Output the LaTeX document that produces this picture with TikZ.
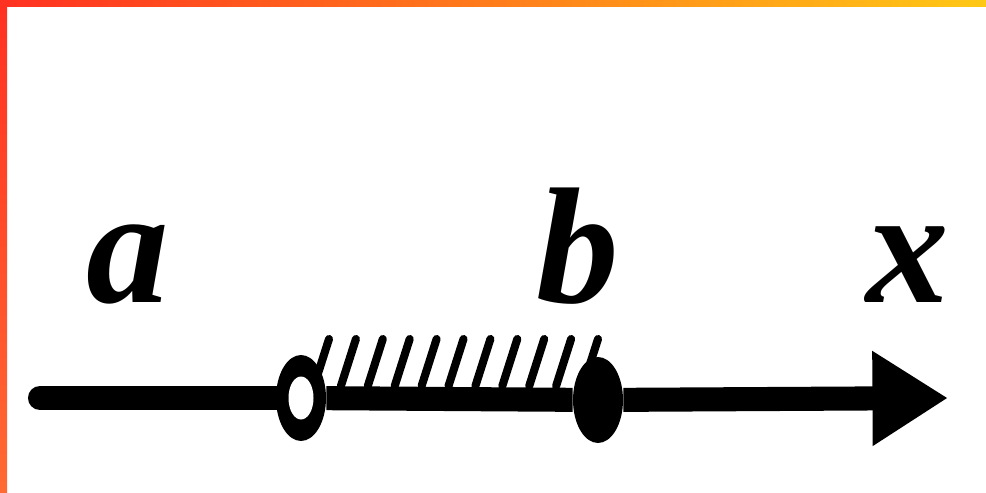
\documentclass[tikz,border=0pt]{standalone}
\usepackage{fontspec}
\setmainfont{Liberation Serif}
\usetikzlibrary{arrows.meta,shapes.geometric}
\definecolor{edgered}{HTML}{FF3121}
\definecolor{edgeyellow}{HTML}{FFC815}
\definecolor{edgeorange}{HTML}{FF6A33}
\tikzset{
	axisline/.style={line width=13.7pt},
	hatchline/.style={line width=4.6pt, line cap=round},
	pointdot/.style={ellipse, fill=black, inner sep=0pt, minimum width=1cm, minimum height=1.72cm},
	letter/.style={anchor=base, inner sep=0pt, font=\fontsize{94}{94}\selectfont\bfseries\itshape},
}
\begin{document}
\begin{tikzpicture}[x=0.02cm, y=-0.02cm]
%	1単位 = 1px
	\useasboundingbox (0,0) rectangle (986,493);
	\fill[white] (0,0) rectangle (986,493); %背景
	\shade[left color=edgered, right color=edgeyellow] (0,0) rectangle (986,7); %上の帯
	\shade[top color=edgered, bottom color=edgeorange] (0,0) rectangle (7,493); %左の帯
	\coordinate (start) at (40,398);
	\coordinate (tip) at (948,398);
	\foreach \i in {0,...,10}
		\draw[hatchline] ({329+26.9*\i},339) -- ({314+26.9*\i},386); %斜線
	\node[pointdot] (pa) at (301,398) {}; %白丸
	\fill[white] (pa) ellipse [x radius=12.5, y radius=21.5];
	\node[pointdot] (pb) at (598,400) {}; %黒丸
	\draw[axisline, line cap=round] (start) -- (pa);
	\draw[axisline] (pa) -- (pb); %中間の線
	\draw[axisline, -{Triangle[length=43pt, width=51pt]}] (pb) -- (tip); %矢印
	\node[letter] (la) at (128,302) {a};
	\node[letter] (lb) at (578,302) {b};
	\node[letter] (lx) at (908,302) {x};
\end{tikzpicture}
\end{document}
